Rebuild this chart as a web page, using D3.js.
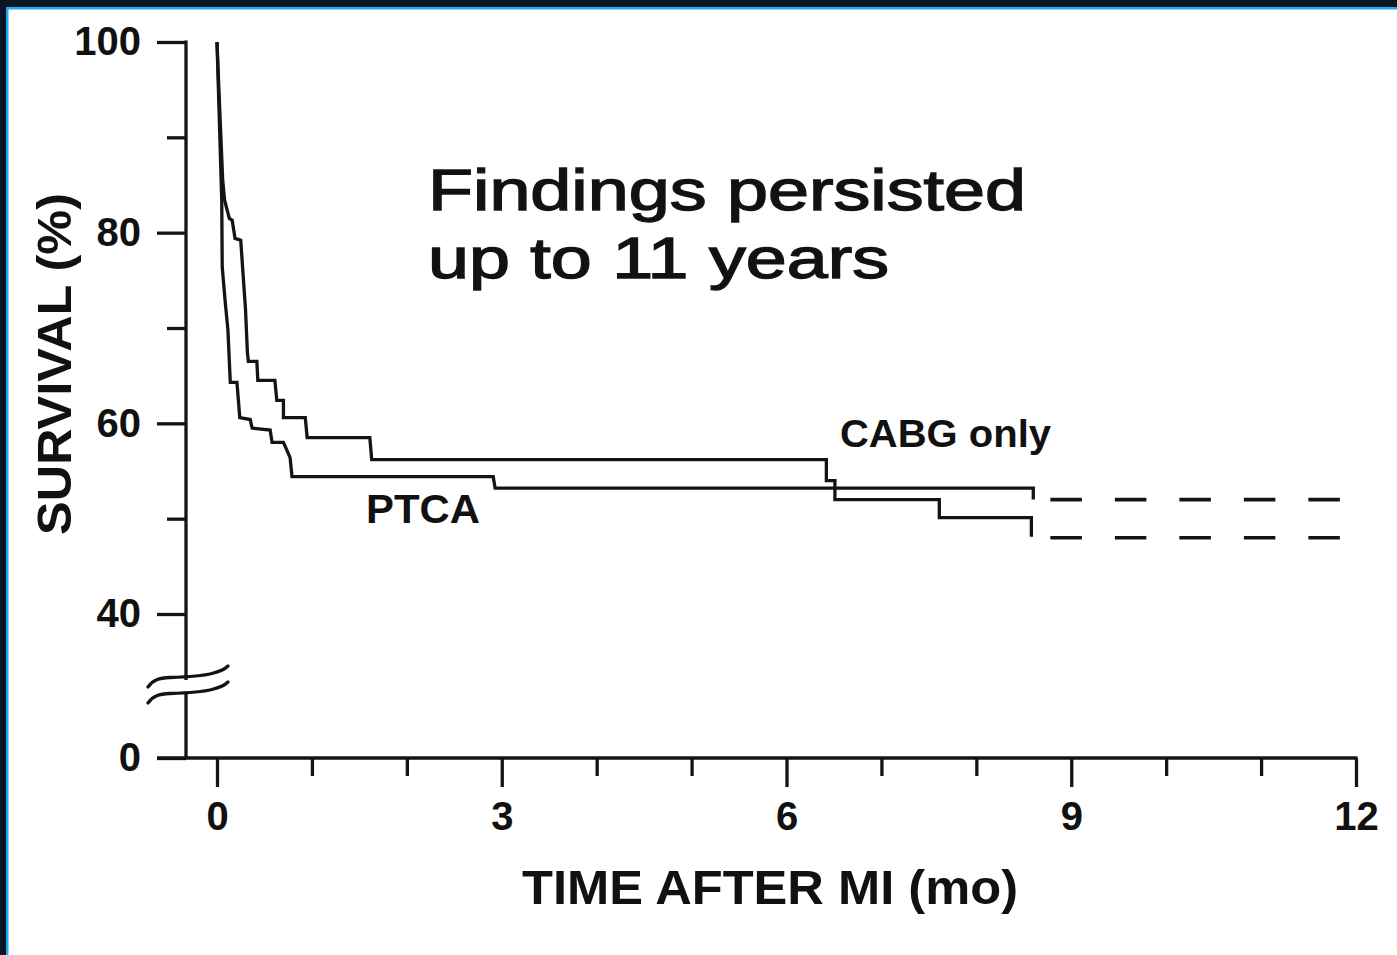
<!DOCTYPE html>
<html>
<head>
<meta charset="utf-8">
<script src="https://cdn.jsdelivr.net/npm/d3@7"></script>
<style>
  html, body { margin: 0; padding: 0; background: #ffffff; }
  svg { display: block; }
  text { font-family: "Liberation Sans", Arial, Helvetica, sans-serif; fill: #111; }
</style>
</head>
<body>
<svg id="chart" width="1397" height="955"></svg>
<script>
// ---------------- DATA ----------------
// Survival curves: vertices (time in months, survival %) of the step curves
const cabgTime = [0, 0.02, 0.06, 0.08, 0.13, 0.16, 0.19, 0.25, 0.30, 0.32, 0.33, 0.42, 0.43, 0.61, 0.63, 0.70, 0.70, 0.93, 0.95, 1.61, 1.63, 6.42, 6.42, 6.51, 6.51, 7.61, 7.61, 8.58, 8.58];
const cabgSurv = [100, 95, 85.5, 83.4, 81.5, 81.3, 79.4, 79.2, 72.0, 67.5, 66.5, 66.5, 64.5, 64.5, 62.4, 62.4, 60.6, 60.6, 58.5, 58.5, 56.2, 56.2, 54.0, 54.0, 52.0, 52.0, 50.1, 50.1, 48.1];

const ptcaTime = [0, 0.05, 0.055, 0.085, 0.115, 0.14, 0.21, 0.24, 0.35, 0.37, 0.56, 0.58, 0.70, 0.77, 0.79, 2.91, 2.93, 8.60, 8.60];
const ptcaSurv = [100, 83.4, 76.4, 72.9, 69.8, 64.3, 64.3, 60.6, 60.4, 59.5, 59.3, 58.0, 58.0, 56.4, 54.4, 54.4, 53.2, 53.2, 52.0];

// Dashed projections beyond follow-up
const projTime = [8.78, 11.83];
const cabgProj = [48.0, 48.0];
const ptcaProj = [52.0, 52.0];

// Axes
const xMajorTicks = [0, 3, 6, 9, 12];
const xMinorTicks = [1, 2, 4, 5, 7, 8, 10, 11];
const yMajorTicks = [0, 40, 60, 80, 100];
const yMinorTicks = [50, 70, 90];

// Texts
const xTitle = "TIME AFTER MI (mo)";
const yTitle = "SURVIVAL (%)";
const noteLines = ["Findings persisted", "up to 11 years"];
const seriesLabels = ["CABG only", "PTCA"];

// ---------------- LAYOUT ----------------
const W = 1397, H = 955;
const ink = "#141414";
const lw = 3.3;
const svg = d3.select("#chart");

svg.append("rect").attr("x", 0).attr("y", 0).attr("width", W).attr("height", H).attr("fill", "#ffffff");

// Frame (dark band + light-blue line at top and left)
svg.append("rect").attr("x", 0).attr("y", 0).attr("width", W).attr("height", 7).attr("fill", "#0b1622");
svg.append("rect").attr("x", 0).attr("y", 0).attr("width", 6).attr("height", H).attr("fill", "#0b1622");
svg.append("rect").attr("x", 6).attr("y", 7).attr("width", W - 6).attr("height", 2.5).attr("fill", "#19aef0");
svg.append("rect").attr("x", 6).attr("y", 7).attr("width", 2.5).attr("height", H - 7).attr("fill", "#19aef0");

const x = d3.scaleLinear().domain([0, 12]).range([217, 1356]);
const y = d3.scaleLinear().domain([0, 40, 100]).range([758, 614, 42]);
const axisX = 186;   // position of the y axis
const axisY = y(0);  // position of the x axis

// ---------------- Y AXIS ----------------
const gy = svg.append("g").attr("transform", `translate(${axisX},0)`);
gy.append("g")
  .call(d3.axisLeft(y).tickValues(yMinorTicks).tickSize(19).tickFormat(""))
  .call(g => g.select(".domain").remove());
gy.append("g")
  .call(d3.axisLeft(y).tickValues(yMajorTicks).tickSize(29).tickPadding(16).tickFormat(d3.format("d")))
  .call(g => g.select(".domain").remove());
gy.selectAll("line").attr("stroke", ink).attr("stroke-width", lw);
gy.selectAll("text")
  .style("font-family", '"Liberation Sans", Arial, sans-serif')
  .style("font-weight", "bold")
  .style("font-size", "40px")
  .attr("fill", ink);
gy.append("line").attr("x1", 0).attr("x2", 0).attr("y1", y(100) - 1.5).attr("y2", axisY)
  .attr("stroke", ink).attr("stroke-width", lw);

// ---------------- X AXIS ----------------
const gx = svg.append("g").attr("transform", `translate(0,${axisY})`);
gx.append("g")
  .call(d3.axisBottom(x).tickValues(xMinorTicks).tickSize(18).tickFormat(""))
  .call(g => g.select(".domain").remove());
gx.append("g")
  .call(d3.axisBottom(x).tickValues(xMajorTicks).tickSize(29).tickPadding(15).tickFormat(d3.format("d")))
  .call(g => g.select(".domain").remove());
gx.selectAll("line").attr("stroke", ink).attr("stroke-width", lw);
gx.selectAll("text")
  .style("font-family", '"Liberation Sans", Arial, sans-serif')
  .style("font-weight", "bold")
  .style("font-size", "40px")
  .attr("fill", ink);
gx.append("line").attr("x1", 157).attr("x2", x(12) + 1.5).attr("y1", 0).attr("y2", 0)
  .attr("stroke", ink).attr("stroke-width", lw);

// ---------------- AXIS BREAK ----------------
svg.append("rect").attr("x", axisX - 4).attr("y", 680).attr("width", 8).attr("height", 12).attr("fill", "#ffffff");
const breakPath = "M148,687 C153,680 159,678 170,677.5 C185,677 200,676.5 212,673.5 C220,671.5 224,670 228,666";
[0, 16].forEach(dy => {
  svg.append("path").attr("d", breakPath).attr("transform", `translate(0,${dy})`)
    .attr("fill", "none").attr("stroke", ink).attr("stroke-width", lw).attr("stroke-linecap", "round");
});

// ---------------- CURVES ----------------
const line = d3.line().x(d => x(d[0])).y(d => y(d[1]));
const cabgPts = cabgTime.map((t, i) => [t, cabgSurv[i]]);
const ptcaPts = ptcaTime.map((t, i) => [t, ptcaSurv[i]]);

[ptcaPts, cabgPts].forEach(pts => {
  svg.append("path").datum(pts).attr("d", line)
    .attr("fill", "none").attr("stroke", ink).attr("stroke-width", lw)
    .attr("stroke-linejoin", "miter");
});

[cabgProj, ptcaProj].forEach(vals => {
  svg.append("path").datum(projTime.map((t, i) => [t, vals[i]])).attr("d", line)
    .attr("fill", "none").attr("stroke", ink).attr("stroke-width", 3.6)
    .attr("stroke-dasharray", "31.5,33");
});

// ---------------- TEXTS ----------------
svg.append("text").attr("x", 840).attr("y", 447)
  .attr("textLength", 211).attr("lengthAdjust", "spacingAndGlyphs")
  .style("font-weight", "bold").style("font-size", "39px").text(seriesLabels[0]);
svg.append("text").attr("x", 366).attr("y", 523)
  .attr("textLength", 114).attr("lengthAdjust", "spacingAndGlyphs")
  .style("font-weight", "bold").style("font-size", "40px").text(seriesLabels[1]);

svg.append("text").attr("x", 522).attr("y", 904)
  .attr("textLength", 496).attr("lengthAdjust", "spacingAndGlyphs")
  .style("font-weight", "bold").style("font-size", "48px").text(xTitle);

svg.append("text").attr("transform", "translate(71,535) rotate(-90)")
  .attr("x", 0).attr("y", 0)
  .attr("textLength", 342).attr("lengthAdjust", "spacingAndGlyphs")
  .style("font-weight", "bold").style("font-size", "48px").text(yTitle);

const noteWidths = [598, 461];
const noteBase = [210, 278];
noteLines.forEach((s, i) => {
  svg.append("text").attr("x", 428).attr("y", noteBase[i])
    .attr("textLength", noteWidths[i]).attr("lengthAdjust", "spacingAndGlyphs")
    .style("font-size", "57px")
    .attr("stroke", ink).attr("stroke-width", 1.4)
    .text(s);
});
</script>
</body>
</html>
